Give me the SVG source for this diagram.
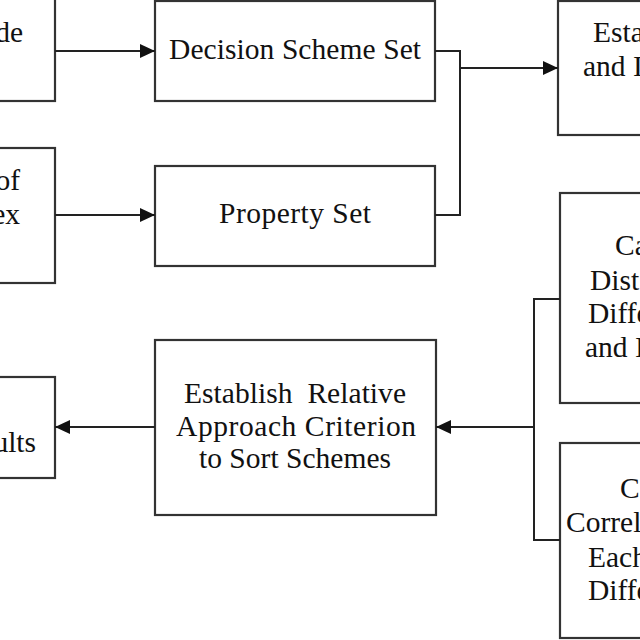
<svg xmlns="http://www.w3.org/2000/svg" width="640" height="640" viewBox="0 0 640 640">
<defs>
<style>
.box{fill:#fff;stroke:#333;stroke-width:2.2}
.ln{fill:none;stroke:#222;stroke-width:2}
.t{font-family:"Liberation Serif","DejaVu Serif","Times New Roman",serif;font-size:29.5px;fill:#111}
.c{text-anchor:middle}
.e{text-anchor:end}
</style>
<marker id="ah" markerUnits="userSpaceOnUse" markerWidth="16" markerHeight="14" refX="15" refY="7" orient="auto">
<path d="M0,0 L15,7 L0,14 Z" fill="#111"/>
</marker>
</defs>
<rect width="640" height="640" fill="#fff"/>
<g id="n-top-left"><rect class="box" x="-10" y="-5" width="65" height="106"/><text class="t e" x="23" y="42">de</text></g>
<g id="n-mid-left"><rect class="box" x="-10" y="148" width="65" height="135"/><text class="t e" x="20" y="190">of</text><text class="t e" x="20" y="224">ex</text></g>
<g id="n-results"><rect class="box" x="-10" y="377" width="65" height="101"/><text class="t e" x="36" y="452">ults</text></g>
<g id="n-decision"><rect class="box" x="155" y="1" width="280" height="100"/><text class="t c" x="295" y="59" textLength="252" lengthAdjust="spacing">Decision Scheme Set</text></g>
<g id="n-property"><rect class="box" x="155" y="166" width="280" height="100"/><text class="t c" x="295" y="223" textLength="152" lengthAdjust="spacing">Property Set</text></g>
<g id="n-establish"><rect class="box" x="155" y="340" width="281" height="175"/><text class="t c" x="295" y="403" xml:space="preserve" textLength="222" lengthAdjust="spacing">Establish  Relative</text><text class="t c" x="296" y="436" textLength="240" lengthAdjust="spacing">Approach Criterion</text><text class="t c" x="295" y="468" textLength="192" lengthAdjust="spacing">to Sort Schemes</text></g>
<g id="n-top-right"><rect class="box" x="558" y="1" width="100" height="134"/><text class="t" x="593" y="42">Esta</text><text class="t" x="583" y="76">and I</text></g>
<g id="n-right-mid"><rect class="box" x="560" y="193" width="100" height="210"/><text class="t" x="615" y="255">Ca</text><text class="t" x="590" y="290">Dist</text><text class="t" x="588" y="323">Diffe</text><text class="t" x="585" y="357">and I</text></g>
<g id="n-right-low"><rect class="box" x="560" y="443" width="100" height="195"/><text class="t" x="620" y="498">C</text><text class="t" x="566" y="532">Correl</text><text class="t" x="588" y="567">Each</text><text class="t" x="588" y="600">Diffe</text></g>
<g id="connectors">
<line class="ln" x1="55" y1="51" x2="155" y2="51" marker-end="url(#ah)"/>
<line class="ln" x1="55" y1="215" x2="155" y2="215" marker-end="url(#ah)"/>
<polyline class="ln" points="435,51 460,51 460,215 435,215"/>
<line class="ln" x1="460" y1="68" x2="558" y2="68" marker-end="url(#ah)"/>
<polyline class="ln" points="560,299 534,299 534,540 560,540"/>
<line class="ln" x1="534" y1="427" x2="436" y2="427" marker-end="url(#ah)"/>
<line class="ln" x1="155" y1="427" x2="55" y2="427" marker-end="url(#ah)"/>
</g>
</svg>
